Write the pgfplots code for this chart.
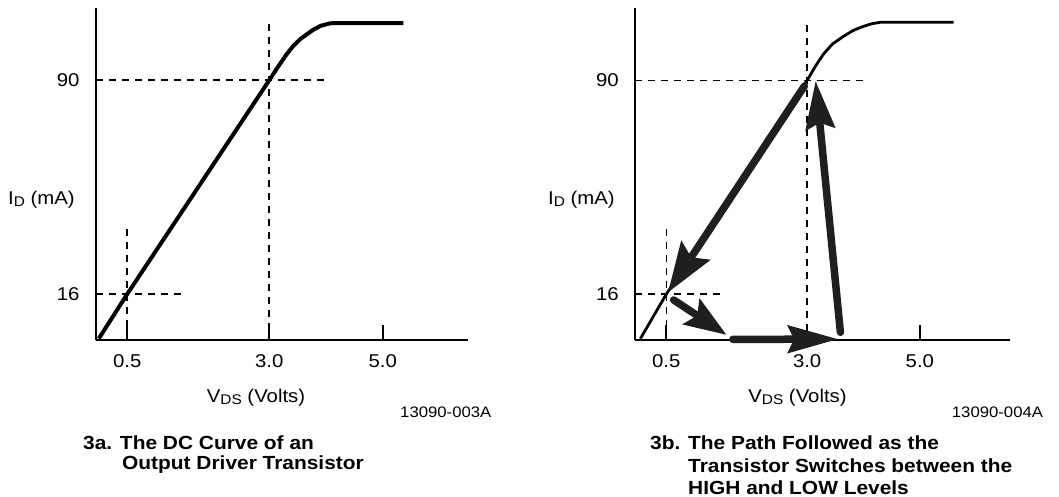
\documentclass[border=0pt]{standalone}
\usepackage{pgfplots}
\pgfplotsset{compat=1.18}
\usetikzlibrary{arrows.meta}
\usepackage{fontspec}
\setmainfont{Liberation Sans}[FakeStretch=1.1]

\newcommand{\lab}{\fontsize{18.5}{20}\selectfont}
\newcommand{\sub}[1]{\raisebox{-1.5pt}{\fontsize{14}{15}\selectfont #1}}
\newcommand{\capfont}{\fontsize{19}{22}\selectfont\bfseries}

\pgfplotsset{
  panel/.style={
    scale only axis, height=332.3pt,
    ymin=0, ymax=115,
    axis x line=bottom, axis y line=left,
    axis line style={-, line width=2.1pt},
    xtick={0.5,3,5}, xticklabels={0.5,3.0,5.0},
    ytick={16,90}, yticklabels={16,90},
    xtick align=inside, ytick align=inside,
    major tick length=15pt,
    x tick style={line width=1.8pt, black},
    y tick style={draw=none},
    tick label style={font=\lab},
    xticklabel style={yshift=-11pt},
    yticklabel style={xshift=-13pt},
    /pgf/number format/assume math mode=true,
    clip=false,
  },
  dash/.style={line width=1.6pt, dash pattern=on 7pt off 6pt, black},
  arr/.style={line width=7.5pt, black!88, line cap=round},
}

\begin{document}
\begin{tikzpicture}
\useasboundingbox (0pt,0pt) rectangle (1059pt,-497pt);

% ---------- panel a ----------
\begin{axis}[panel, width=372pt, xmin=-0.05, xmax=6.5,
  at={(96pt,-340.3pt)}, anchor=south west]
\addplot[dash] coordinates {(0.5,38.5) (0.5,0)};
\addplot[dash] coordinates {(-0.05,16) (1.49,16)};
\addplot[dash] coordinates {(3.0,109.4) (3.0,0)};
\addplot[dash] coordinates {(-0.05,90) (4.0,90)};
\addplot[line width=4pt, black, line join=round] coordinates {
(0.0,0.6) (0.5,16) (3.0,90) (3.15,94.5) (3.3,98.8) (3.42,101.8) (3.55,104.3)
(3.67,106.0) (3.77,107.4) (3.9,108.8) (4.07,109.7) (4.2,109.8) (5.36,109.8)};
\end{axis}

% ---------- panel b ----------
\begin{axis}[panel, width=374.7pt, xmin=-0.05, xmax=6.6,
  at={(635.3pt,-340.4pt)}, anchor=south west]
\addplot[dash] coordinates {(0.5,38.4) (0.5,0)};
\addplot[dash] coordinates {(-0.05,16) (1.46,16)};
\addplot[dash] coordinates {(3.0,109) (3.0,0)};
\addplot[dash] coordinates {(-0.05,90) (4.0,90)};
\addplot[line width=2.8pt, black, line join=round] coordinates {
(0.04,0.6) (0.5,16) (3.0,90) (3.15,95.0) (3.29,99.1) (3.45,102.6) (3.65,105.3)
(3.82,107.3) (4.0,108.7) (4.15,109.6) (4.3,110.1) (5.6,110.1)};
% switching path
\addplot[arr, -{Stealth[length=50pt, width=34pt, inset=8pt]}] coordinates {(2.95,88) (0.53,16.6)};
\addplot[arr, -{Stealth[length=42pt, width=30pt, inset=7pt]}] coordinates {(0.63,14.0) (1.57,1.9)};
\addplot[arr, -{Stealth[length=50pt, width=27pt, inset=6pt]}] coordinates {(1.68,0.35) (3.55,0.45)};
\addplot[arr, -{Stealth[length=48pt, width=29pt, inset=6pt]}] coordinates {(3.59,2.8) (3.15,89.8)};
\end{axis}

% ---------- labels ----------
\node[anchor=west, inner sep=0pt, font=\lab] at (8pt,-200pt) {I\sub{D} (mA)};
\node[anchor=west, inner sep=0pt, font=\lab] at (548pt,-200pt) {I\sub{D} (mA)};
\node[anchor=center, inner sep=0pt, font=\lab] at (256pt,-398pt) {V\sub{DS} (Volts)};
\node[anchor=center, inner sep=0pt, font=\lab] at (797.5pt,-398pt) {V\sub{DS} (Volts)};
\node[anchor=west, inner sep=0pt, font=\fontsize{15.2}{17}\selectfont] at (400pt,-412pt) {13090-003A};
\node[anchor=west, inner sep=0pt, font=\fontsize{15.2}{17}\selectfont] at (951.7pt,-412pt) {13090-004A};

\node[anchor=west, inner sep=0pt, font=\capfont] at (83pt,-443pt) {3a. The DC Curve of an};
\node[anchor=west, inner sep=0pt, font=\capfont] at (122pt,-465pt) {Output Driver Transistor};
\node[anchor=west, inner sep=0pt, font=\capfont] at (650pt,-443pt) {3b. The Path Followed as the};
\node[anchor=west, inner sep=0pt, font=\capfont] at (688pt,-466pt) {Transistor Switches between the};
\node[anchor=west, inner sep=0pt, font=\capfont] at (688pt,-488pt) {HIGH and LOW Levels};
\end{tikzpicture}
\end{document}
